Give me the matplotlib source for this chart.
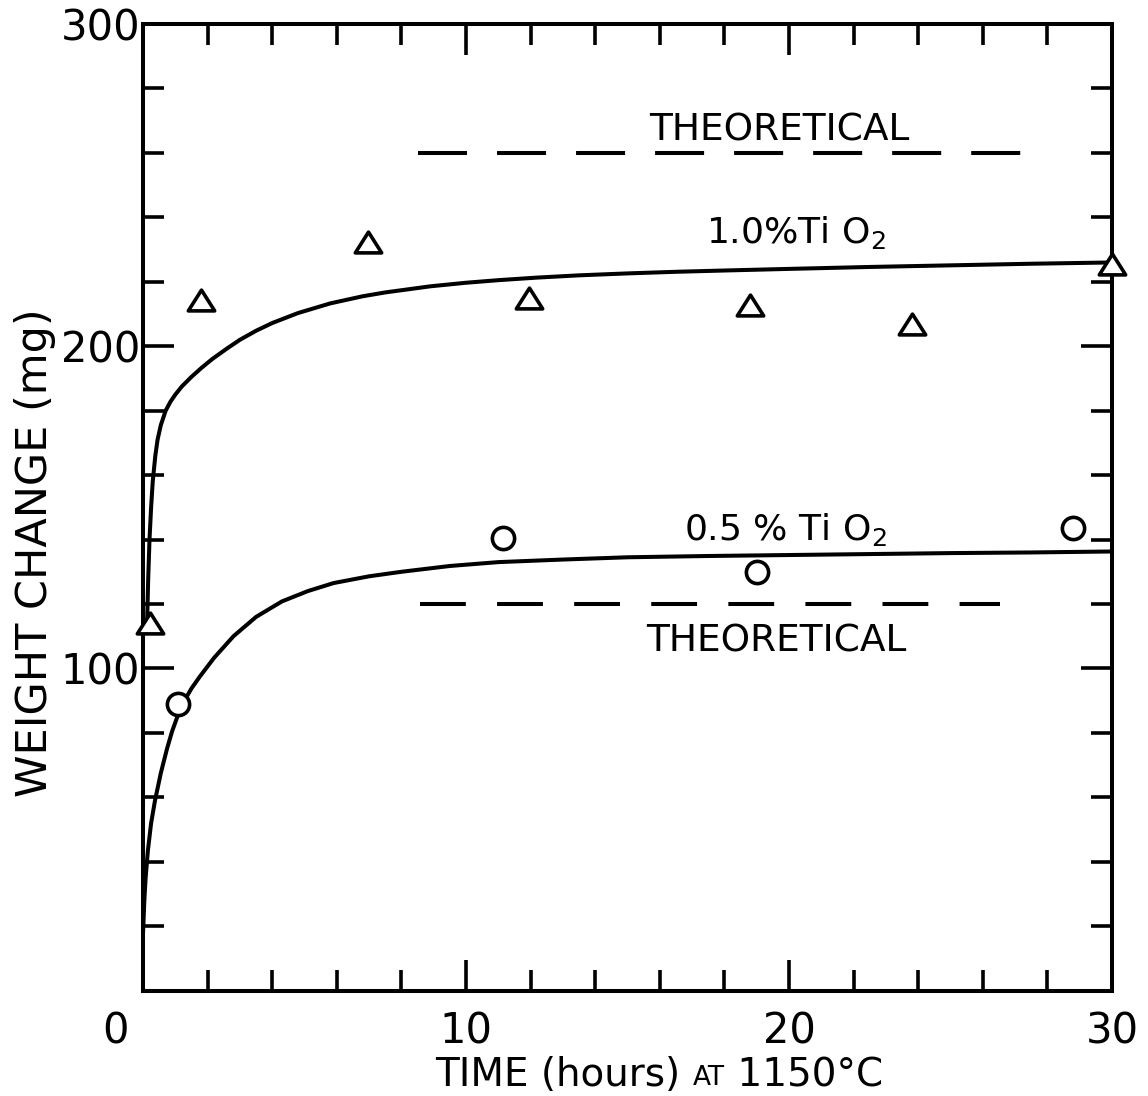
import matplotlib
matplotlib.use('Agg')
import matplotlib.pyplot as plt
from matplotlib.path import Path
from matplotlib.ticker import MultipleLocator, FixedLocator
from matplotlib.transforms import ScaledTranslation

# ── Data ────────────────────────────────────────────────────
# measured weight change, 1.0 % TiO2 (triangles)
t_10 = [0.22, 1.80, 6.97, 11.95, 18.8, 23.8, 30.0]
w_10 = [114, 214.5, 232.3, 214.9, 212.7, 206.8, 225.5]

# measured weight change, 0.5 % TiO2 (circles)
t_05 = [1.08, 11.15, 19.0, 28.8]
w_05 = [89, 140.4, 130, 143.5]

# hand drawn curves through the data
curve_t_10 = [0.12, 0.16, 0.2, 0.25, 0.3, 0.38, 0.45, 0.55, 0.7, 0.85,
              1.0, 1.2, 1.5, 1.8, 2.14, 2.6, 3.0, 3.5, 4.0, 4.8, 5.8,
              6.8, 7.5, 8.9, 10.0, 11.0, 12.2, 13.5, 15.0, 16.5, 18.0,
              20.0, 22.5, 25.0, 27.5, 30.0]
curve_w_10 = [112, 128, 140, 150, 158, 166, 171, 175.5, 180, 182.8,
              185, 187.5, 190.5, 193.2, 196, 199.3, 202, 204.8, 207.2, 210.3, 213.3,
              215.5, 216.7, 218.6, 219.7, 220.5, 221.3, 222, 222.6, 223.1, 223.5,
              224, 224.6, 225.1, 225.6, 226]

curve_t_05 = [0.0, 0.04, 0.08, 0.15, 0.25, 0.37, 0.55, 0.74, 0.9, 1.08,
              1.25, 1.5, 1.76, 2.2, 2.8, 3.5, 4.3, 5.1, 5.9, 7.0, 8.0,
              9.5, 11.0, 13.0, 15.0, 17.5, 20.0, 22.5, 25.0, 27.5, 30.0]
curve_w_05 = [18, 28, 35, 43.5, 52, 59, 67.5, 75, 80.5, 85.5,
              89.5, 93.8, 97.5, 103.3, 110, 116, 120.8, 124, 126.5, 128.6, 130,
              131.8, 133, 133.8, 134.5, 134.9, 135.2, 135.5, 135.8, 136, 136.3]

# theoretical gains (dashed lines)
theo_10 = 260
theo_10_span = [8.5, 27.25]
theo_05 = 120
theo_05_span = [8.58, 26.53]

x_ticks = [0, 10, 20, 30]
y_ticks = [100, 200, 300]

# ── Figure ───────────────────────────────────────────────────
plt.rcParams['font.family'] = ['DejaVu Sans']
plt.rcParams['lines.scale_dashes'] = False
plt.rcParams['mathtext.fontset'] = 'dejavusans'

LW = 2.9
fig = plt.figure(figsize=(11.48, 10.96), dpi=100)
ax = fig.add_axes([0.1246, 0.0961, 0.8440, 0.8820])

ax.plot(curve_t_10, curve_w_10, color='black', lw=LW, solid_joinstyle='round')
ax.plot(curve_t_05, curve_w_05, color='black', lw=LW, solid_joinstyle='round')

ax.plot(theo_10_span, [theo_10, theo_10], color='black', lw=LW,
        dashes=(35.3, 21.6))
ax.plot(theo_05_span, [theo_05, theo_05], color='black', lw=LW,
        dashes=(33, 22.5))

# wide open triangle, a bit flatter than matplotlib's '^'
tri = Path([(0, 1), (-1.27, -1), (1.27, -1), (0, 1)],
           [Path.MOVETO, Path.LINETO, Path.LINETO, Path.CLOSEPOLY])
ax.plot(t_10, w_10, ls='none', marker=tri, ms=19, mfc='white', mec='black',
        mew=2.6, clip_on=False, zorder=5)
ax.plot(t_05, w_05, ls='none', marker='o', ms=16, mfc='white', mec='black',
        mew=2.6, clip_on=False, zorder=5)

# curve labels
ax.text(19.7, 263.7, 'THEORETICAL', fontsize=27, ha='center', va='baseline')
ax.text(20.2, 231.9, r'1.0%Ti O$_2$', fontsize=26, ha='center', va='baseline')
ax.text(19.9, 140, r'0.5 % Ti O$_2$', fontsize=26, ha='center', va='baseline')
ax.text(19.6, 105.3, 'THEORETICAL', fontsize=27, ha='center', va='baseline')

# axes, ticks
ax.set_xlim(0, 30)
ax.set_ylim(0, 300)
ax.xaxis.set_major_locator(FixedLocator(x_ticks))
ax.xaxis.set_minor_locator(MultipleLocator(2))
ax.yaxis.set_major_locator(FixedLocator(y_ticks))
ax.yaxis.set_minor_locator(MultipleLocator(20))
ax.set_xticklabels([str(v) for v in x_ticks])
ax.set_yticklabels([str(v) for v in y_ticks])

for sp in ax.spines.values():
    sp.set_linewidth(LW)
ax.tick_params(which='both', direction='in', top=True, right=True,
               width=2.6, labelsize=30)
ax.tick_params(which='major', length=22)
ax.tick_params(which='minor', length=15)
ax.tick_params(axis='x', pad=14)
ax.tick_params(axis='y', pad=2)

# the "0" sits left of the corner in the original
lbl0 = ax.xaxis.get_major_ticks()[0].label1
lbl0.set_transform(lbl0.get_transform()
                   + ScaledTranslation(-0.28, 0, fig.dpi_scale_trans))

ax.set_ylabel('WEIGHT CHANGE (mg)', fontsize=31, va='center')
ax.yaxis.set_label_coords(-0.111, 0.453)

# x label, "AT" set in smaller capitals
t1 = fig.text(0.379, 0.0091, 'TIME (hours) ', fontsize=28,
              ha='left', va='baseline')
t2 = ax.annotate('AT', xy=(1, 0), xycoords=t1, xytext=(0, 1.9),
                 textcoords='offset points', fontsize=19,
                 ha='left', va='bottom', annotation_clip=False)
t3 = ax.annotate(' 1150°C', xy=(1, 0), xycoords=t2, xytext=(0, -1.9),
                 textcoords='offset points', fontsize=28,
                 ha='left', va='bottom', annotation_clip=False)

plt.savefig('out.png', dpi=100)
plt.close(fig)
